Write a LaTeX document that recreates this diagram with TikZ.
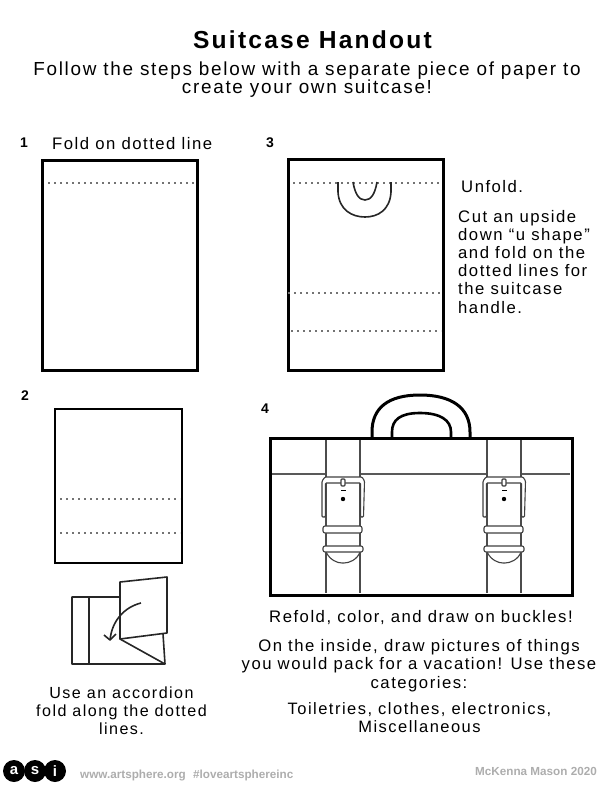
\documentclass[tikz,border=0pt]{standalone}
\usepackage{fontspec}
\setmainfont{Liberation Sans}[LetterSpace=9]
\tikzset{
  sheet/.style={rectangle, draw=black, inner sep=0pt, line width=3pt},
  dotline/.style={draw=black!55, line width=2.2pt, dash pattern=on 2.2pt off 3.8pt},
  body/.style={font=\fontsize{16.7}{18.2}\selectfont, align=center, inner sep=0pt},
  stepnum/.style={font=\fontsize{14}{14}\selectfont\bfseries, inner sep=0pt},
  footer/.style={font=\fontsize{11.7}{12}\selectfont\bfseries\addfontfeature{LetterSpace=0}, text=black!32, inner sep=0pt},
  strapline/.style={draw=black!70, line width=1.1pt},
  bucklepart/.style={draw=black!75, fill=white, line width=1.1pt, rounded corners=1pt},
  foldline/.style={draw=black!85, line width=1.6pt, line join=round},
  handleline/.style={draw=black, line width=3pt}
}

\begin{document}
\begin{tikzpicture}[x=1pt, y=-1pt]
\useasboundingbox (0,0) rectangle (612,792);

% headings
\node[font=\fontsize{24.6}{24}\selectfont\bfseries, inner sep=0pt] (title) at (312.5,40) {Suitcase Handout};
\node[body, font=\fontsize{18.9}{18.2}\selectfont] (intro) at (307,79.5) {Follow the steps below with a separate piece of paper to\\create your own suitcase!};

% step 1
\node[stepnum] (n1) at (24,143) {1};
\node[body, anchor=west] (t1) at (52,144) {Fold on dotted line};
\node[sheet, minimum width=155pt, minimum height=210pt] (sheet1) at (119.5,265) {};
\coordinate (d1a) at (48,183);
\coordinate (d1b) at (196,183);
\draw[dotline] (d1a) -- (d1b);

% step 3
\node[stepnum] (n3) at (270,143) {3};
\node[sheet, minimum width=155pt, minimum height=211pt] (sheet3) at (365.5,264.5) {};
\coordinate (d3a) at (293,183);
\coordinate (d3b) at (441,183);
\coordinate (d3c) at (288,293);
\coordinate (d3d) at (441,293);
\coordinate (d3e) at (291,331);
\coordinate (d3f) at (441,331);
\draw[dotline] (d3a) -- (d3b);
\draw[dotline] (d3c) -- (d3d);
\draw[dotline] (d3e) -- (d3f);
\draw[foldline] (338,182) -- (338,192) .. controls (339,210) and (352,217) .. (365,217) .. controls (378,217) and (390,210) .. (391,192) -- (391,182);
\draw[foldline] (353,182) .. controls (355,194) and (359,200) .. (365,200) .. controls (371,200) and (375,194) .. (377,182);
\node[body, anchor=west] (t3a) at (461,187) {Unfold.};
\node[body, anchor=north west, align=left] (t3b) at (458,209.7) {Cut an upside\\down “u shape”\\and fold on the\\dotted lines for\\the suitcase\\handle.};

% step 2
\node[stepnum] (n2) at (25,396) {2};
\node[sheet, line width=2pt, minimum width=127pt, minimum height=154pt] (sheet2) at (118.5,486) {};
\coordinate (d2a) at (60,499);
\coordinate (d2b) at (180,499);
\coordinate (d2c) at (60,533);
\coordinate (d2d) at (180,533);
\draw[dotline] (d2a) -- (d2b);
\draw[dotline] (d2c) -- (d2d);

% accordion sketch
\coordinate (fa) at (72,597);
\coordinate (fb) at (120,597);
\coordinate (fc) at (72,664);
\coordinate (fd) at (165,664);
\coordinate (fe) at (89,597);
\coordinate (ff) at (89,664);
\coordinate (fg) at (120,582);
\coordinate (fh) at (167,577);
\coordinate (fi) at (167,633);
\coordinate (fj) at (120,639);
\coordinate (fk) at (163,634);
\coordinate (fl) at (141,603);
\coordinate (fm) at (110,640);
\draw[foldline] (fb) -- (fa) -- (fc) -- (fd) -- (fj);
\draw[foldline] (fe) -- (ff);
\draw[foldline] (fg) -- (fh) -- (fi) -- (fj) -- cycle;
\draw[foldline] (fk) -- (fd);
\draw[foldline] (fl) .. controls (125,607) and (112,620) .. (fm);
\draw[foldline] (104,635) -- (fm) -- (116,634);
\node[body, font=\fontsize{16.1}{18.2}\selectfont] (t2) at (121.5,710.5) {Use an accordion\\fold along the dotted\\lines.};

% step 4
\node[stepnum] (n4) at (265,409) {4};
\draw[handleline] (372,438) -- (372,432) .. controls (372,408) and (388,395) .. (420,395) .. controls (452,395) and (470,408) .. (470,432) -- (470,438);
\draw[handleline, line width=2.6pt] (392,438) -- (392,432) .. controls (392,420) and (400,413) .. (420,413) .. controls (440,413) and (451,420) .. (451,432) -- (451,438);
\node[sheet, minimum width=302pt, minimum height=157pt] (case) at (421,516.5) {};
\draw[draw=black!65, line width=2.4pt] (272,474) -- (570,474);

\begin{scope}[shift={(326,0)}]
\fill[white] (0,440) rectangle (34,593);
\draw[strapline] (0,440) -- (0,593);
\draw[strapline] (34,440) -- (34,593);
\draw[bucklepart] (-4,517) -- (-4,481) -- (-1,477) -- (36,477) -- (38.5,481) -- (37.5,517) -- (34.5,517) -- (34.5,483) -- (-0.5,483) -- (-0.5,517) -- cycle;
\draw[bucklepart] (15,479) rectangle (19,486);
\fill[black] (14.5,489.5) rectangle (19.5,491);
\fill[black] (17,499) circle (2.2pt);
\draw[bucklepart, rounded corners=2pt] (-3,526) rectangle (36,533);
\draw[bucklepart] (0,552) .. controls (4,560) and (11,563) .. (17,563) .. controls (23,563) and (31,560) .. (34,552);
\draw[bucklepart, rounded corners=2pt] (-3,546) rectangle (37,552);
\end{scope}

\begin{scope}[shift={(487,0)}]
\fill[white] (0,440) rectangle (34,593);
\draw[strapline] (0,440) -- (0,593);
\draw[strapline] (34,440) -- (34,593);
\draw[bucklepart] (-4,517) -- (-4,481) -- (-1,477) -- (36,477) -- (38.5,481) -- (37.5,517) -- (34.5,517) -- (34.5,483) -- (-0.5,483) -- (-0.5,517) -- cycle;
\draw[bucklepart] (15,479) rectangle (19,486);
\fill[black] (14.5,489.5) rectangle (19.5,491);
\fill[black] (17,499) circle (2.2pt);
\draw[bucklepart, rounded corners=2pt] (-3,526) rectangle (36,533);
\draw[bucklepart] (0,552) .. controls (4,560) and (11,563) .. (17,563) .. controls (23,563) and (31,560) .. (34,552);
\draw[bucklepart, rounded corners=2pt] (-3,546) rectangle (37,552);
\end{scope}

\node[body] (t4a) at (421,618) {Refold, color, and draw on buckles!};
\node[body] (t4b) at (419,665.5) {On the inside, draw pictures of things\\you would pack for a vacation! Use these\\categories:};
\node[body, font=\fontsize{16.5}{18.2}\selectfont] (t4c) at (419.5,717.5) {Toiletries, clothes, electronics,\\Miscellaneous};

% footer
\node[circle, fill=black, minimum size=22pt, inner sep=0pt] (logoa) at (14,771) {};
\node[circle, fill=black, minimum size=22pt, inner sep=0pt] (logos) at (35,771) {};
\node[circle, fill=black, minimum size=22pt, inner sep=0pt] (logoi) at (55,771) {};
\node[font=\fontsize{15}{15}\selectfont\bfseries, text=white, inner sep=0pt] at (logoa) {a};
\node[font=\fontsize{15}{15}\selectfont\bfseries, text=white, inner sep=0pt] at (logos) {s};
\node[font=\fontsize{15}{15}\selectfont\bfseries, text=white, inner sep=0pt] at (logoi) {i};
\node[footer, anchor=west] (web) at (80,775) {www.artsphere.org};
\node[footer, anchor=west] (tag) at (193,775) {\#loveartsphereinc};
\node[footer, anchor=east] (credit) at (597,771) {McKenna Mason 2020};
\end{tikzpicture}
\end{document}
